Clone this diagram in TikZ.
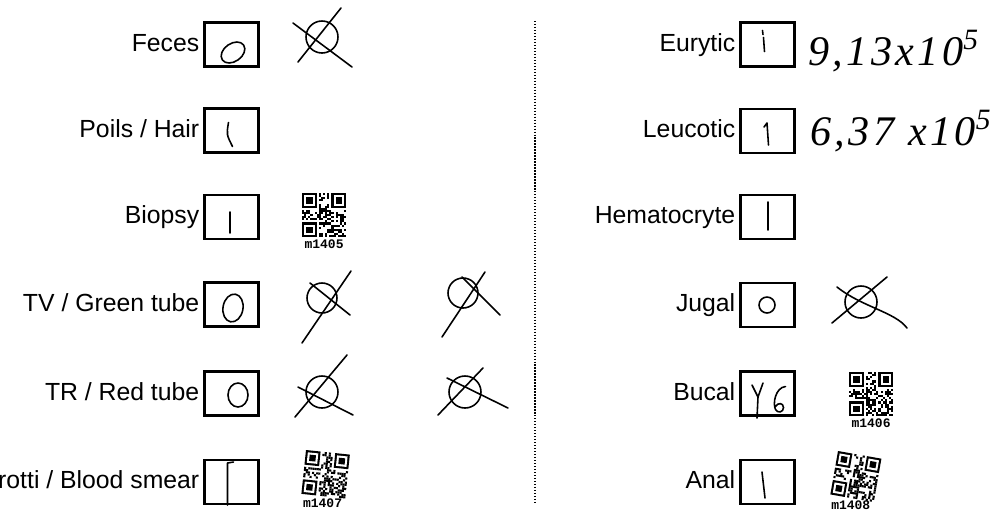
\documentclass[tikz,border=0pt]{standalone}
\usepackage{fontspec}
\setmainfont{Liberation Sans}
\newfontfamily\handfont{Liberation Serif}[LetterSpace=8]
\newfontfamily\tagfont{Liberation Mono}
\usetikzlibrary{positioning}
\tikzset{
  valbox/.style={draw,line width=1.6pt,minimum width=1.08cm,minimum height=0.88cm,inner sep=0pt},
  lbl/.style={inner sep=0pt,text height=0.75em,text depth=0pt,font=\fontsize{14.1}{16}\selectfont},
  hand/.style={line width=0.9pt,line cap=round,line join=round},
  handtext/.style={inner sep=0pt,font=\handfont\itshape\fontsize{24}{28}\selectfont},
  tagtext/.style={inner sep=0pt,font=\tagfont\bfseries\fontsize{7.4}{8}\selectfont},
  divider/.style={line width=0.7pt,densely dotted}
}
\newcommand\qrtag[4]{%
  \begin{scope}[shift={#1},rotate=#2,scale=2.1]
    \pgfmathsetseed{#3}
    \foreach \i in {0,...,20}{\foreach \j in {0,...,20}{
      \pgfmathparse{and(rnd<0.5,not(or(or(and(\i<8,\j<8),and(\i>12,\j<8)),and(\i<8,\j>12))))}
      \ifdim\pgfmathresult pt>0.5pt \fill (\i,\j) rectangle ++(1,1);\fi}}
    \foreach \a/\b in {0/0,14/0,0/14}{
      \fill (\a,\b) rectangle ++(7,7);
      \fill[white] (\a+1,\b+1) rectangle ++(5,5);
      \fill (\a+2,\b+2) rectangle ++(3,3);}
    \node[tagtext] at (10.5,24.5) {#4};
  \end{scope}}
\begin{document}
\begin{tikzpicture}[x=0.02cm,y=-0.02cm]
  \useasboundingbox (0,0) rectangle (998,515);
  \node[valbox] (fe) at (231.5,44.5) {};
  \node[valbox] (po) at (231.5,130.5) {};
  \node[valbox] (bi) at (231.5,217) {};
  \node[valbox] (tv) at (231.5,304.5) {};
  \node[valbox] (tr) at (231.5,393.5) {};
  \node[valbox] (fr) at (231.5,482) {};
  \node[lbl,left=2pt of fe] (fe-l) {Feces};
  \node[lbl,left=2pt of po] (po-l) {Poils / Hair};
  \node[lbl,left=2pt of bi] (bi-l) {Biopsy};
  \node[lbl,left=2pt of tv] (tv-l) {TV / Green tube};
  \node[lbl,left=2pt of tr] (tr-l) {TR / Red tube};
  \node[lbl,left=2pt of fr] (fr-l) {rotti / Blood smear};
  \node[valbox] (eu) at (767.5,44.5) {};
  \node[valbox] (le) at (767.5,131) {};
  \node[valbox] (he) at (767.5,217) {};
  \node[valbox] (ju) at (767.5,305) {};
  \node[valbox] (bu) at (767.5,393.5) {};
  \node[valbox] (an) at (767.5,482) {};
  \node[lbl,left=2pt of eu] (eu-l) {Eurytic};
  \node[lbl,left=2pt of le] (le-l) {Leucotic};
  \node[lbl,left=2pt of he] (he-l) {Hematocryte};
  \node[lbl,left=2pt of ju] (ju-l) {Jugal};
  \node[lbl,left=2pt of bu] (bu-l) {Bucal};
  \node[lbl,left=2pt of an] (an-l) {Anal};
  \node[handtext,right=7pt of eu,anchor=base west,yshift=-0.41cm] (eu-v) {9,13x10\textsuperscript{5}};
  \node[handtext,right=8pt of le,anchor=base west,yshift=-0.28cm] (le-v) {6,37 x10\textsuperscript{5}};
  \draw[divider] (535,21) -- (535,503);
  \draw[hand,shift={(fe.center)}] (1.5,8) circle[x radius=13,y radius=9,rotate=35];
  \draw[hand,shift={(po.center)}] (-3,-8) .. controls (-5,4) .. (1,16);
  \draw[hand,shift={(bi.center)}] (-1.5,-5) -- (-1.5,16);
  \draw[hand,shift={(tv.center)}] (1.5,3.5) circle[x radius=10,y radius=14,rotate=-10];
  \draw[hand,shift={(tr.center)}] (6.5,1.5) circle[x radius=10,y radius=12];
  \draw[hand,shift={(fr.center)}] (-4,23) -- (-4,-19) -- (2,-20);
  \draw[hand,shift={(eu.center)}] (-5,-14) -- (-4.5,-10) (-4,-7) -- (-3,7);
  \draw[hand,shift={(le.center)}] (-3.5,-4) -- (-0.5,-8) -- (1,14);
  \draw[hand,shift={(he.center)}] (0.5,-15) -- (0.5,13);
  \draw[hand,shift={(ju.center)}] (-0.5,0) circle[radius=8];
  \draw[hand,shift={(bu.center)}] (-15.5,-8.5) -- (-9.5,3.5) -- (-4.5,-10.5) (-9.5,3.5) -- (-10.5,24.5);
  \draw[hand,shift={(bu.center)}] (18,-7) .. controls (8,-6) and (5,10) .. (8,16) .. controls (10,20) and (16,19) .. (16,14) .. controls (16,9) and (10,9) .. (8,13);
  \draw[hand,shift={(an.center)}] (-5.5,-10) .. controls (-4,4) .. (-2.5,16);
  \draw[hand] (322,37) circle[radius=16];
  \draw[hand] (298,62) -- (341,8);
  \draw[hand] (293,23) -- (352,67);
  \draw[hand] (322,298) circle[radius=15];
  \draw[hand] (302,343) -- (351,271);
  \draw[hand] (310,283) -- (350,315);
  \draw[hand] (463,293) circle[radius=15];
  \draw[hand] (442,337) -- (485,272);
  \draw[hand] (462,277) -- (500,315);
  \draw[hand] (322,392) circle[radius=16];
  \draw[hand] (295,417) -- (347,355);
  \draw[hand] (298,387) -- (353,415);
  \draw[hand] (465,392) circle[radius=16];
  \draw[hand] (438,415) -- (483,368);
  \draw[hand] (447,378) -- (508,408);
  \draw[hand] (861,302) circle[radius=16];
  \draw[hand] (832,323) -- (887,277);
  \draw[hand] (837,287) .. controls (862,307) and (895,312) .. (907,328);
  \qrtag{(302,193)}{0}{1405}{m1405}
  \qrtag{(306,450)}{-6}{1407}{m1407}
  \qrtag{(849,372)}{0}{1406}{m1406}
  \qrtag{(838,451)}{-10}{1408}{m1408}
\end{tikzpicture}
\end{document}
